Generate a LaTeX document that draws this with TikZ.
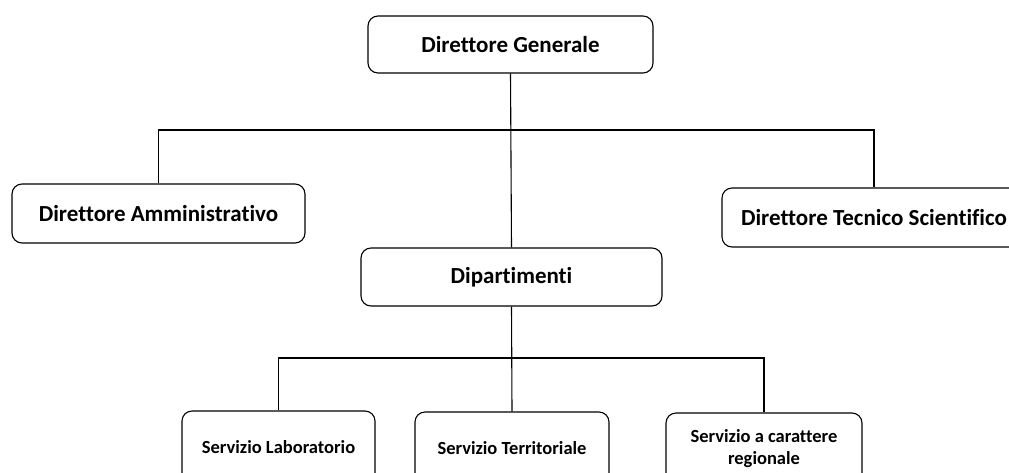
\documentclass[tikz,border=0pt]{standalone}
\usepackage{fontspec}
\setmainfont[Ligatures={NoCommon}]{Carlito}
\begin{document}
\begin{tikzpicture}[x=1pt,y=-1pt,
  box/.style={draw=black,line width=1.1pt,rounded corners=10pt,align=center,inner sep=0pt,font=\bfseries\fontsize{23}{27}\selectfont},
  sbox/.style={box,font=\bfseries\fontsize{18.5}{22}\selectfont},
  link/.style={draw=black,line width=1.1pt}]
\useasboundingbox (0,0) rectangle (1009,472);
\clip (0,0) rectangle (1009,472);
\node[box,minimum width=285pt,minimum height=57pt] (dg) at (510.5,44.5) {Direttore Generale};
\node[box,minimum width=293pt,minimum height=59pt] (da) at (158.5,213.5) {Direttore Amministrativo};
\node[box,minimum width=304pt,minimum height=59pt] (dts) at (874,217.5) {Direttore Tecnico Scientifico};
\node[box,minimum width=301pt,minimum height=58pt] (dip) at (511.5,277) {Dipartimenti};
\node[sbox,minimum width=193pt,minimum height=72pt] (sl) at (278.5,447) {Servizio Laboratorio};
\node[sbox,minimum width=194pt,minimum height=72pt] (st) at (512,448) {Servizio Territoriale};
\node[sbox,minimum width=196pt,minimum height=72pt] (sr) at (764,449) {Servizio a carattere\\regionale};
\coordinate (j1) at (511,130);
\coordinate (j2) at (511,358);
\draw[link] (dg.south) -- (dip.north);
\draw[link] (da.north) |- (j1) -| (dts.north);
\draw[link] (dip.south) -- (st.north);
\draw[link] (sl.north) |- (j2) -| (sr.north);
\end{tikzpicture}
\end{document}
